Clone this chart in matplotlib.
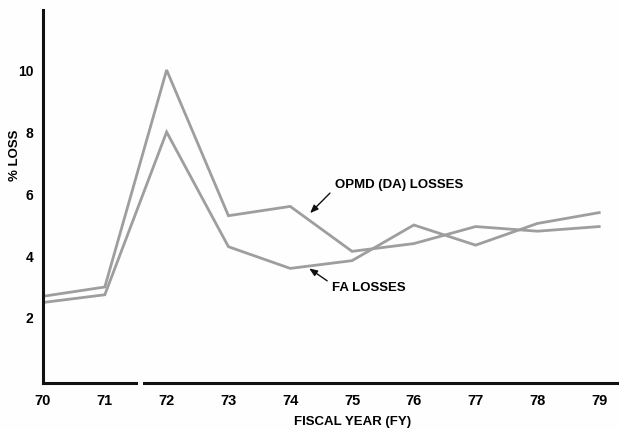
import matplotlib
matplotlib.use("Agg")
import matplotlib.pyplot as plt
import matplotlib.transforms as mtransforms

# values
years = [70, 71, 72, 73, 74, 75, 76, 77, 78, 79]
opmd_losses = [2.7, 3.0, 10.0, 5.3, 5.6, 4.15, 4.4, 4.95, 4.8, 4.95]
fa_losses = [2.5, 2.75, 8.0, 4.3, 3.6, 3.85, 5.0, 4.35, 5.05, 5.4]
y_ticks = [2, 4, 6, 8, 10]
x_labels = [str(y) for y in years]

FONT = ["Liberation Sans Narrow", "Liberation Sans", "DejaVu Sans"]
LINE_COLOR = "#9e9e9e"
BG = "#fefefe"

plt.rcParams["font.family"] = FONT

fig = plt.figure(figsize=(6.19, 4.29), dpi=100, facecolor=BG)
ax = fig.add_axes([0.0695, 0.107, 0.9305, 0.870])
ax.set_facecolor(BG)

ax.plot(years, opmd_losses, color=LINE_COLOR, lw=2.0, solid_joinstyle="miter")
ax.plot(years, fa_losses, color=LINE_COLOR, lw=2.0, solid_joinstyle="miter")

ax.set_xlim(70, 79.32)
ax.set_ylim(-0.1, 11.94)

ax.set_xticks(years)
ax.set_xticklabels(x_labels, fontsize=10.5, fontweight="bold")
ax.set_yticks(y_ticks)
ax.set_yticklabels([str(t) for t in y_ticks], fontsize=10, fontweight="bold")
ax.tick_params(axis="both", length=0)
ax.tick_params(axis="x", pad=8)
ax.tick_params(axis="y", pad=7)

for side in ["top", "right"]:
    ax.spines[side].set_visible(False)
for side in ["left", "bottom"]:
    ax.spines[side].set_linewidth(2.2)
    ax.spines[side].set_color("#111111")

# break in the x axis between 71 and 72
trans = mtransforms.blended_transform_factory(ax.transData, ax.transAxes)
ax.plot([71.53, 71.62], [0, 0], color=BG, lw=4, transform=trans,
        clip_on=False, zorder=5, solid_capstyle="butt")

ax.set_xlabel("FISCAL YEAR (FY)", fontsize=9.5, fontweight="bold")
ax.xaxis.set_label_coords((353 - 43) / 576, -0.088)
ax.set_ylabel("% LOSS", fontsize=9.5, fontweight="bold")
ax.yaxis.set_label_coords(-0.038, 0.61)

arrow = dict(arrowstyle="-|>,head_length=0.5,head_width=0.2", color="#111111", lw=1.0)
ax.annotate("OPMD (DA) LOSSES", xy=(74.29, 5.32), xytext=(74.72, 6.3),
            fontsize=9.5, fontweight="bold", va="center", ha="left",
            arrowprops=dict(arrow, relpos=(0, 0.2)))
ax.annotate("FA LOSSES", xy=(74.27, 3.65), xytext=(74.68, 2.97),
            fontsize=9.5, fontweight="bold", va="center", ha="left",
            arrowprops=dict(arrow, relpos=(0, 0.8)))

plt.savefig("out.png", dpi=100, facecolor=BG)
plt.close()
